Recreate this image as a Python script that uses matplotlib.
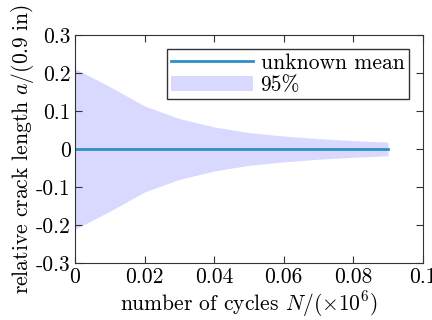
import matplotlib
matplotlib.use("Agg")
import matplotlib.pyplot as plt
import numpy as np

plt.rcParams["font.family"] = "serif"
plt.rcParams["font.serif"] = ["cmr10", "DejaVu Serif"]
plt.rcParams["mathtext.fontset"] = "cm"
plt.rcParams["axes.unicode_minus"] = False

# cycles (x 10^6) and half-width of the 95% band
cycles = [0.0, 0.01, 0.02, 0.03, 0.04, 0.05, 0.06, 0.07, 0.08, 0.09]
half_width = [0.211, 0.164, 0.113, 0.080, 0.058, 0.043, 0.034, 0.027, 0.022, 0.018]
mean = [0.0] * len(cycles)

x_ticks = [0, 0.02, 0.04, 0.06, 0.08, 0.1]
x_labels = ["0", "0.02", "0.04", "0.06", "0.08", "0.1"]
y_ticks = [-0.3, -0.2, -0.1, 0, 0.1, 0.2, 0.3]
y_labels = ["-0.3", "-0.2", "-0.1", "0", "0.1", "0.2", "0.3"]

fs = 15.5

fig = plt.figure(figsize=(4.32, 3.2), dpi=100)
ax = fig.add_axes([0.1736, 0.178, 0.805, 0.713])

m = np.array(mean)
h = np.array(half_width)
ax.fill_between(cycles, m - h, m + h, color=(0.85, 0.85, 1.0), linewidth=0, label="95%")
ax.plot(cycles, mean, color="#2f8fc6", linewidth=2, label="unknown mean")

ax.set_xlim(0, 0.1)
ax.set_ylim(-0.3, 0.3)
ax.set_xticks(x_ticks)
ax.set_xticklabels(x_labels)
ax.set_yticks(y_ticks)
ax.set_yticklabels(y_labels)
ax.tick_params(direction="in", top=True, right=True, labelsize=fs, length=5,
               color="#333333", pad=3)
for s in ax.spines.values():
    s.set_color("#333333")

ax.set_xlabel(r"number of cycles $N/(\times 10^6)$", fontsize=fs, labelpad=2)
ax.set_ylabel(r"relative crack length $a/(0.9\ \mathrm{in})$", fontsize=fs, labelpad=0)

handles, labels = ax.get_legend_handles_labels()
leg = ax.legend(handles[::-1], labels[::-1], loc="upper right", fontsize=fs,
                fancybox=False, framealpha=1, edgecolor="#333333",
                handlelength=3.8, handletextpad=0.35, borderpad=0.2,
                labelspacing=0.12, borderaxespad=0.65)

fig.savefig("out.png", dpi=100)
